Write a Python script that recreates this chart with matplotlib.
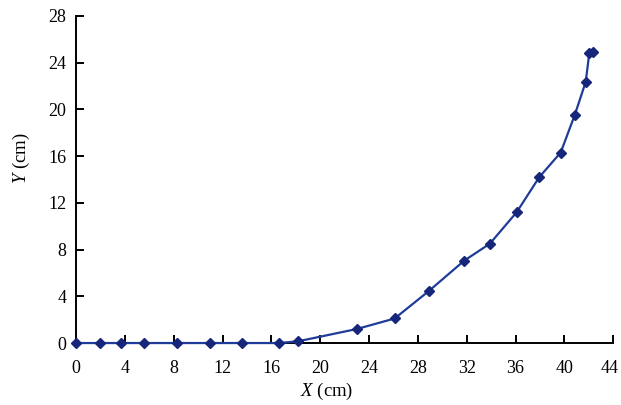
import numpy as np
from matplotlib import pyplot as plt
from matplotlib import transforms

plt.rcParams['font.family'] = 'Liberation Serif'
plt.rcParams['mathtext.fontset'] = 'custom'
plt.rcParams['mathtext.it'] = 'Liberation Serif:italic'
plt.rcParams['mathtext.rm'] = 'Liberation Serif'

x = [0, 2.0, 3.7, 5.6, 8.3, 11.0, 13.6, 16.6, 18.2, 23.0, 26.1, 28.9,
     31.8, 33.9, 36.1, 37.95, 39.7, 40.85, 41.75, 42.05, 42.35]
y = [0, 0, 0, 0, 0, 0, 0, 0, 0.15, 1.2, 2.1, 4.45,
     7.05, 8.5, 11.2, 14.2, 16.3, 19.5, 22.35, 24.85, 24.9]

xticks = np.arange(0, 45, 4)
yticks = np.arange(0, 29, 4)

fig = plt.figure(figsize=(6.21, 4.05), dpi=100)
ax = fig.add_axes([0.1224, 0.153, 0.865, 0.808])

ax.plot(x, y, color='#1f3c99', lw=1.6, marker='D', ms=5,
        mfc='#16267a', mec='#16267a', clip_on=False, zorder=3)

ax.set_xlim(0, 44)
ax.set_ylim(0, 28)
ax.set_xticks(xticks)
ax.set_yticks(yticks)
ax.spines['top'].set_visible(False)
ax.spines['right'].set_visible(False)
for s in ['left', 'bottom']:
    ax.spines[s].set_linewidth(1.4)
ax.tick_params(direction='in', length=6, width=1.4, labelsize=13)
ax.tick_params(axis='x', pad=12)
ax.tick_params(axis='y', pad=7)

# nudge the last x label so it stays inside the figure
last = ax.get_xticklabels()[-1]
last.set_transform(last.get_transform() +
                   transforms.ScaledTranslation(-4 / 100, 0, fig.dpi_scale_trans))

ax.set_xlabel('$X$ (cm)', fontsize=13.5)
ax.set_ylabel('$Y$ (cm)', fontsize=13.5)
ax.xaxis.set_label_coords(0.467, -0.115)
ax.yaxis.set_label_coords(-0.082, 0.566)

fig.savefig('out.png', dpi=100)
